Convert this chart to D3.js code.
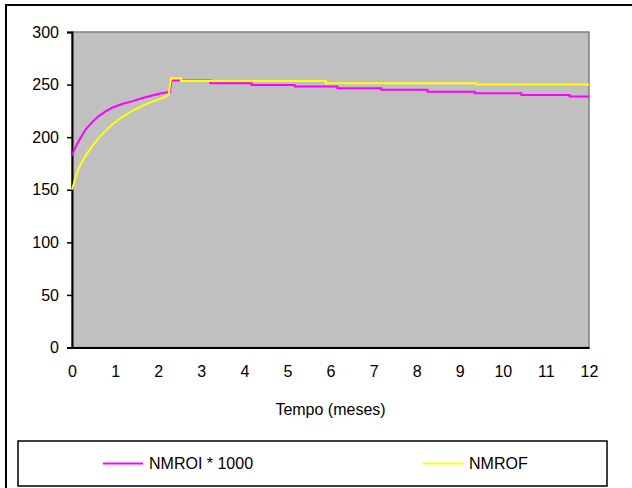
<!DOCTYPE html>
<html>
<head>
<meta charset="utf-8">
<script src="https://cdn.jsdelivr.net/npm/d3@7"></script>
<style>
  body { margin: 0; background: #fff; }
  svg { display: block; font-family: "Liberation Sans", Arial, sans-serif; }
</style>
</head>
<body>
<div class="chart"></div>
<script>
var xTicks = [0, 1, 2, 3, 4, 5, 6, 7, 8, 9, 10, 11, 12];
var yTicks = [0, 50, 100, 150, 200, 250, 300];

// NMROI * 1000 (magenta)
var nmroiT = [0, 0.05, 0.15, 0.31, 0.46, 0.62, 0.78, 0.93, 1.16, 1.39, 1.62, 1.86, 2.05, 2.2, 2.27,
  2.31, 3.21, 3.21, 4.17, 4.17, 5.17, 5.17, 6.16, 6.16, 7.18, 7.18, 8.25, 8.25, 9.35, 9.35, 10.43, 10.43, 11.55, 11.55, 12];
var nmroiV = [182.6, 188, 196, 207, 214, 220, 224.5, 228, 231.5, 234, 237, 239.6, 241.5, 242.8, 243,
  253.8, 253.8, 251.2, 251.2, 249.7, 249.7, 248.1, 248.1, 246.5, 246.5, 245, 245, 243.3, 243.3, 241.7, 241.7, 240.2, 240.2, 238.6, 238.6];

// NMROF (yellow)
var nmrofT = [0, 0.05, 0.15, 0.31, 0.46, 0.62, 0.78, 0.93, 1.16, 1.39, 1.62, 1.86, 2.05, 2.2, 2.24,
  2.3, 2.53, 2.53, 5.89, 5.89, 9.39, 9.39, 12];
var nmrofV = [150, 157, 170, 182, 191, 199.4, 206, 212, 219, 224.7, 229.5, 233.6, 236.5, 239, 240,
  256, 256, 253.3, 253.3, 251.2, 251.2, 250, 250];

var seriesNames = ["NMROI * 1000", "NMROF"];
var seriesColors = ["#ff00ff", "#ffff00"];

var W = 632, H = 488;
var plot = {left: 72, right: 589, top: 32, bottom: 347.5};

var svg = d3.select('.chart')
  .append('svg')
	.attr('width', W)
	.attr('height', H);

// outer frame (right/bottom edges fall outside the picture)
svg.append('rect')
	.attr('x', 6).attr('y', 5)
	.attr('width', W + 10).attr('height', H + 10)
	.attr('fill', '#fff')
	.attr('stroke', '#000')
	.attr('stroke-width', 2);

var x = d3.scaleLinear().domain([0, 12]).range([plot.left, plot.right]);
var y = d3.scaleLinear().domain([0, 300]).range([plot.bottom, plot.top]);

// plot area
svg.append('rect')
	.attr('x', plot.left).attr('y', plot.top)
	.attr('width', plot.right - plot.left)
	.attr('height', plot.bottom - plot.top)
	.attr('fill', '#c0c0c0')
	.attr('stroke', '#808080')
	.attr('stroke-width', 1.5);

// y axis
var yAxis = svg.append('g')
	.attr('transform', `translate(${plot.left}, 0)`)
	.call(d3.axisLeft(y).tickValues(yTicks).tickSize(5).tickPadding(8));
yAxis.select('.domain').attr('stroke-width', 2);
yAxis.selectAll('.tick line').attr('stroke-width', 1.5);
yAxis.selectAll('text').attr('font-size', 16).attr('fill', '#000')
	.attr('font-family', '"Liberation Sans", Arial, sans-serif');

// x axis
var xAxis = svg.append('g')
	.attr('transform', `translate(0, ${plot.bottom})`)
	.call(d3.axisBottom(x).tickValues(xTicks).tickSize(0).tickPadding(18));
xAxis.select('.domain').attr('stroke-width', 2);
xAxis.selectAll('text').attr('font-size', 16).attr('fill', '#000')
	.attr('font-family', '"Liberation Sans", Arial, sans-serif');

svg.append('text')
	.attr('x', (plot.left + plot.right) / 2)
	.attr('y', 415)
	.attr('text-anchor', 'middle')
	.attr('font-size', 16)
	.text('Tempo (meses)');

var line = d3.line()
	.x(d => x(d[0]))
	.y(d => y(d[1]));

var series = [d3.zip(nmroiT, nmroiV), d3.zip(nmrofT, nmrofV)];

svg.selectAll('path.series')
	.data(series)
	.enter()
	.append('path')
	.attr('class', 'series')
	.attr('d', line)
	.attr('fill', 'none')
	.attr('stroke', (d, i) => seriesColors[i])
	.attr('stroke-width', 2);

// legend
svg.append('rect')
	.attr('x', 18).attr('y', 441)
	.attr('width', 589).attr('height', 45)
	.attr('fill', '#fff')
	.attr('stroke', '#000')
	.attr('stroke-width', 1.5);

var legendX = [103, 423];
var legend = svg.selectAll('g.legend')
	.data(seriesNames)
	.enter()
	.append('g')
	.attr('class', 'legend')
	.attr('transform', (d, i) => `translate(${legendX[i]}, 463.5)`);

legend.append('line')
	.attr('x1', 0).attr('x2', 40)
	.attr('stroke', (d, i) => seriesColors[i])
	.attr('stroke-width', 2);

legend.append('text')
	.attr('x', 46)
	.attr('dy', '0.36em')
	.attr('font-size', 16)
	.text(d => d);
</script>
</body>
</html>
